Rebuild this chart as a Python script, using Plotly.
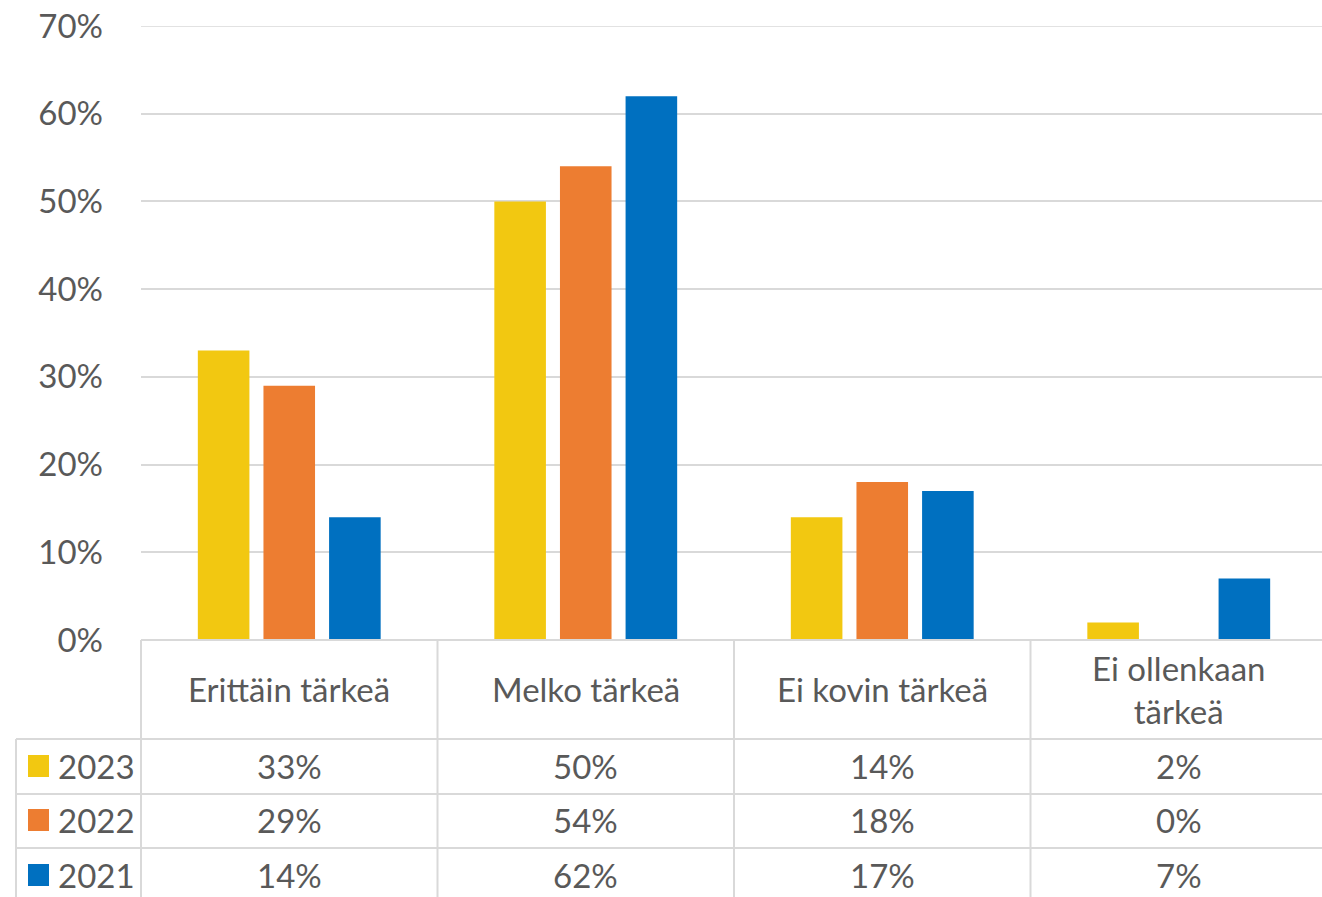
import plotly.graph_objects as go

categories = ["Erittäin tärkeä", "Melko tärkeä", "Ei kovin tärkeä", "Ei ollenkaan<br>tärkeä"]
series_names = ["2023", "2022", "2021"]
values_2023 = [33, 50, 14, 2]
values_2022 = [29, 54, 18, 0]
values_2021 = [14, 62, 17, 7]
colors = ["#F2C811", "#ED7D31", "#0070C0"]
tick_vals = [0, 10, 20, 30, 40, 50, 60, 70]
tick_text = ["0%", "10%", "20%", "30%", "40%", "50%", "60%", "70%"]

all_values = [values_2023, values_2022, values_2021]

W, H = 1327, 897
L, R, T, B = 141, 0, 26, 257
PW = W - L - R
PH = H - T - B

def px2x(px):
    return (px - L) / PW

def py2y(py):
    return (H - B - py) / PH

FONT = "Lato, 'Open Sans', sans-serif"
FS = 33
TXT = "#595959"
GRID = "#D9D9D9"

fig = go.Figure()
for name, vals, col in zip(series_names, all_values, colors):
    fig.add_trace(go.Bar(x=list(range(len(categories))), y=vals, name=name,
                         marker=dict(color=col, line=dict(width=0)), showlegend=False))

shapes = []
# top gridline (range edge)
shapes.append(dict(type="line", xref="paper", yref="y", x0=0, x1=1, y0=70, y1=70,
                   line=dict(color=GRID, width=1.5)))
# horizontal table lines
for py, x0 in [(640, 141), (739, 16), (794, 16), (848, 16)]:
    shapes.append(dict(type="line", xref="paper", yref="paper",
                       x0=px2x(x0), x1=1, y0=py2y(py), y1=py2y(py),
                       line=dict(color=GRID, width=2)))
# vertical table lines
for k in range(4):
    xp = k / 4
    shapes.append(dict(type="line", xref="paper", yref="paper",
                       x0=xp, x1=xp, y0=py2y(640), y1=py2y(897),
                       line=dict(color=GRID, width=2)))
shapes.append(dict(type="line", xref="paper", yref="paper",
                   x0=px2x(16), x1=px2x(16), y0=py2y(739), y1=py2y(897),
                   line=dict(color=GRID, width=2)))

annotations = []
row_y = [766, 820, 875]
# category headers
for i, c in enumerate(categories):
    annotations.append(dict(x=i, xref="x", y=py2y(689), yref="paper", text=c,
                            showarrow=False, xanchor="center", yanchor="middle",
                            font=dict(family=FONT, size=FS, color=TXT)))
# data cells and legend keys
for r, (name, vals, col) in enumerate(zip(series_names, all_values, colors)):
    for i, v in enumerate(vals):
        annotations.append(dict(x=i, xref="x", y=py2y(row_y[r]), yref="paper",
                                text=f"{v}%", showarrow=False, xanchor="center",
                                yanchor="middle",
                                font=dict(family=FONT, size=FS, color=TXT)))
    annotations.append(dict(x=px2x(56), xref="paper", y=py2y(row_y[r]), yref="paper",
                            text=name, showarrow=False, xanchor="left", yanchor="middle",
                            font=dict(family=FONT, size=FS, color=TXT)))
    shapes.append(dict(type="rect", xref="paper", yref="paper",
                       x0=px2x(28), x1=px2x(49),
                       y0=py2y(row_y[r] - 11), y1=py2y(row_y[r] + 11),
                       fillcolor=col, line=dict(width=0)))

fig.update_layout(
    width=W, height=H,
    margin=dict(l=L, r=R, t=T, b=B, pad=0),
    paper_bgcolor="white", plot_bgcolor="white",
    barmode="group", bargap=0.336, bargroupgap=0.214,
    shapes=shapes, annotations=annotations,
    xaxis=dict(range=[-0.5, 3.5], showticklabels=False, showgrid=False,
               zeroline=False, showline=False, ticks=""),
    yaxis=dict(range=[0, 70], tickvals=tick_vals, ticktext=tick_text,
               showgrid=True, gridcolor=GRID, gridwidth=1.5, zeroline=False,
               showline=False, ticks="", ticklabelstandoff=37,
               tickfont=dict(family=FONT, size=FS, color=TXT)),
)

fig.write_html("out.html", config={"displayModeBar": False},
               post_script="document.body.style.margin='0';document.body.style.overflow='hidden';")
